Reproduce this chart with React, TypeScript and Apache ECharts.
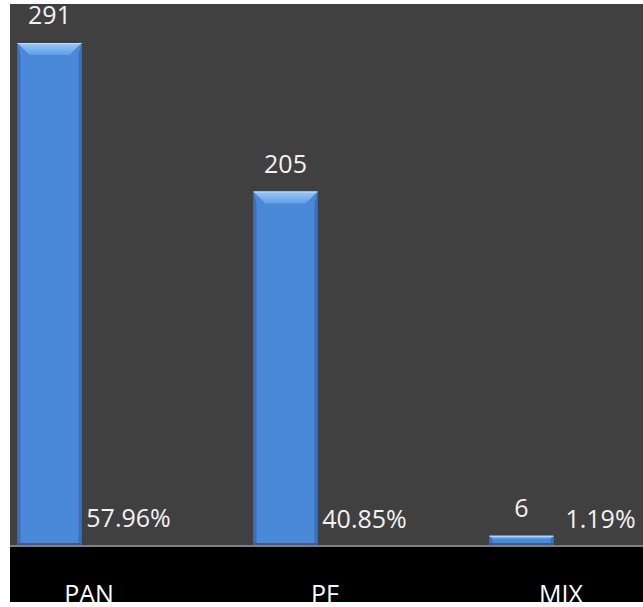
import React, { useEffect, useRef } from "react";
import * as echarts from "echarts";

const categories = ["PAN", "PF", "MIX"];
const counts = [291, 205, 6];
const shares = [0.5796, 0.4085, 0.0119];
const shareLabels = ["57.96%", "40.85%", "1.19%"];

const FONT = "'Open Sans', 'Noto Sans', sans-serif";

export default function App() {
  const ref = useRef<HTMLDivElement>(null);
  useEffect(() => {
    if (!ref.current) return;
    const chart = echarts.init(ref.current, null, { renderer: "svg" });
    const BAR_W = 64;
    const GAP = 15;
    const offset = (BAR_W + GAP) / 2;
    const labelStyle: any = {
      show: true,
      position: "top",
      distance: 16,
      color: "#f2f2f2",
      fontSize: 25,
      fontFamily: FONT,
    };
    chart.setOption({
      animation: false,
      backgroundColor: "#404040",
      grid: { left: 0, right: 0, top: 23.4, bottom: 56, outerBoundsMode: "none" },
      xAxis: {
        type: "category",
        data: categories,
        axisTick: { show: false },
        axisLine: { lineStyle: { color: "#7f7f7f", width: 2 } },
        axisLabel: { color: "#ffffff", fontSize: 25, margin: 34, fontFamily: FONT },
        z: 5,
      },
      yAxis: { type: "value", min: 0, max: 300, show: false, splitLine: { show: false } },
      graphic: [
        {
          type: "rect",
          z: -10,
          shape: { x: 0, y: 543, width: 708, height: 60 },
          style: { fill: "#000000" },
        },
      ],
      series: [
        {
          type: "bar",
          data: counts,
          barWidth: BAR_W,
          barGap: (GAP / BAR_W) * 100 + "%",
          itemStyle: { color: "#4a88d8" },
          label: labelStyle,
          z: 2,
        },
        {
          type: "bar",
          data: shares,
          barWidth: BAR_W,
          itemStyle: { color: "#a8423c" },
          label: { ...labelStyle, distance: 15, formatter: (p: any) => shareLabels[p.dataIndex] },
          z: 2,
        },
        {
          type: "custom",
          silent: true,
          z: 3,
          data: counts.map((v, i) => [i, v]),
          renderItem: (params: any, api: any) => {
            const idx = api.value(0);
            const v = api.value(1);
            const top = api.coord([idx, v]);
            const base = api.coord([idx, 0]);
            const cx = top[0] - offset;
            const x0 = cx - BAR_W / 2;
            const x1 = cx + BAR_W / 2;
            const y0 = top[1];
            const y1 = base[1] - 1;
            const h = y1 - y0;
            const b = Math.min(12, h / 3);
            const s = 3;
            return {
              type: "group",
              children: [
                {
                  type: "polygon",
                  shape: { points: [[x0, y0], [x0 + s, y0 + b], [x0 + s, y1 - 2], [x0, y1]] },
                  style: { fill: "#3a6fbd" },
                },
                {
                  type: "polygon",
                  shape: { points: [[x1, y0], [x1 - s, y0 + b], [x1 - s, y1 - 2], [x1, y1]] },
                  style: { fill: "#3a6fbd" },
                },
                {
                  type: "rect",
                  shape: { x: x0, y: y1 - 2, width: BAR_W, height: 2 },
                  style: { fill: "#2f5fa6" },
                },
                {
                  type: "polygon",
                  shape: { points: [[x0, y0], [x1, y0], [x1 - b, y0 + b], [x0 + b, y0 + b]] },
                  style: {
                    fill: new echarts.graphic.LinearGradient(0, 0, 0, 1, [
                      { offset: 0, color: "#9cc9f7" },
                      { offset: 1, color: "#5f9de6" },
                    ]),
                  },
                },
                {
                  type: "rect",
                  shape: { x: x0, y: y0, width: BAR_W, height: 1 },
                  style: { fill: "#bcdcfb" },
                },
              ],
            };
          },
        },
      ],
    });
    return () => chart.dispose();
  }, []);
  return (
    <div
      style={{
        position: "fixed",
        left: 10,
        top: 4,
        width: 633,
        height: 598,
        overflow: "hidden",
        background: "#404040",
      }}
    >
      <div
        ref={ref}
        style={{ position: "absolute", left: -39, top: 0, width: 708, height: 598 }}
      />
    </div>
  );
}
